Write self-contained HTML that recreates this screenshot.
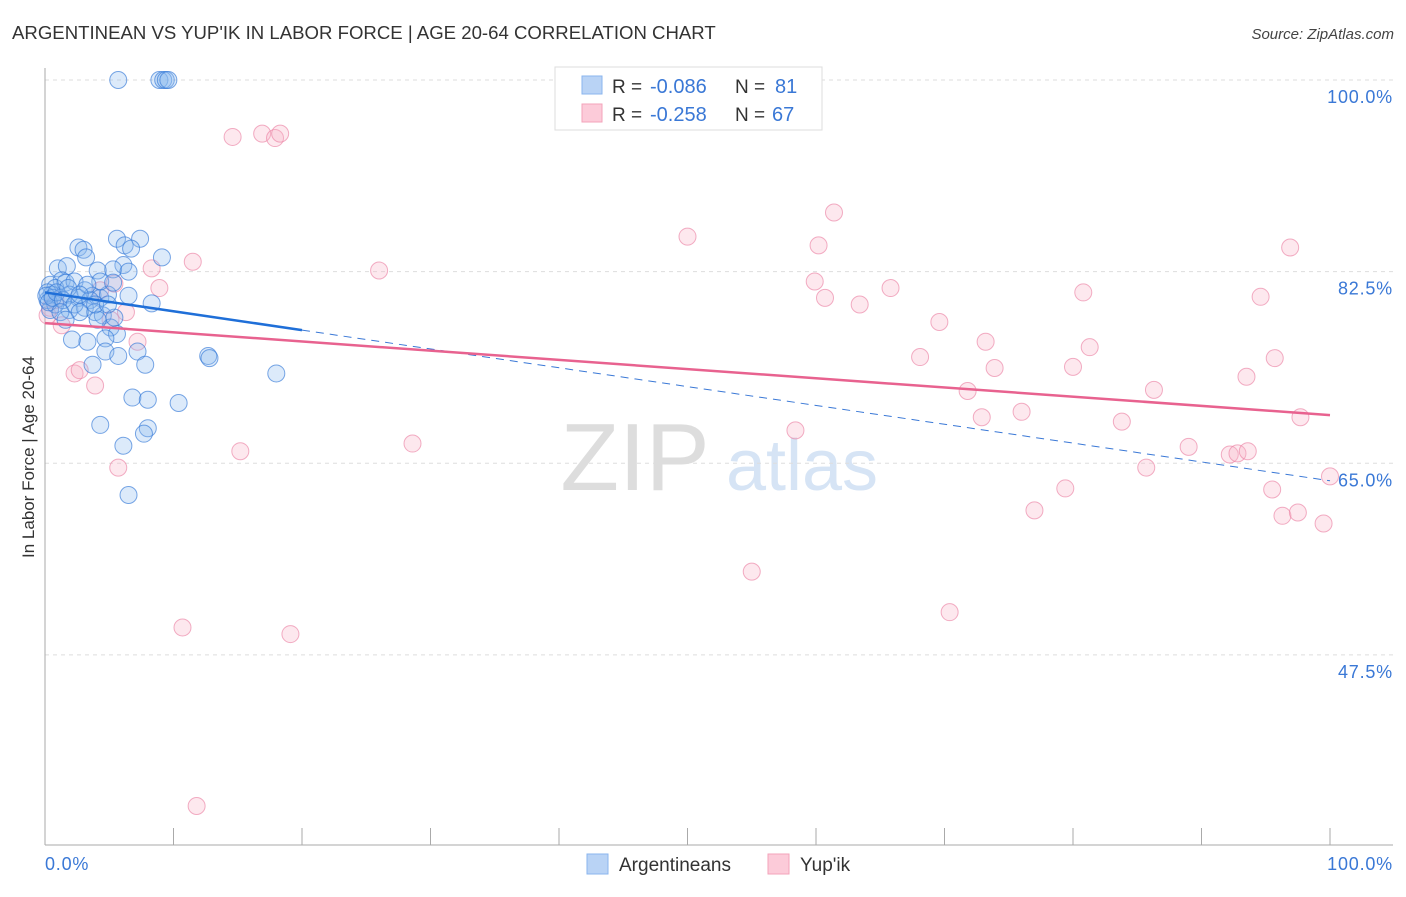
<!DOCTYPE html>
<html><head><meta charset="utf-8"><style>
body{margin:0;background:#fff;font-family:"Liberation Sans",sans-serif}
svg text{font-family:"Liberation Sans",sans-serif}
</style></head><body>
<svg id="chart" width="1406" height="892" xmlns="http://www.w3.org/2000/svg">
<text x="12" y="39" font-size="18.6" fill="#333">ARGENTINEAN VS YUP'IK IN LABOR FORCE | AGE 20-64 CORRELATION CHART</text>
<text x="1394" y="39" font-size="15" fill="#444" text-anchor="end" font-style="italic">Source: ZipAtlas.com</text>
<g>
<text x="635" y="490" font-size="96" fill="#ddd" text-anchor="middle" font-family="Liberation Serif">ZIP</text>
<text x="802" y="490" font-size="72" fill="#d6e4f5" text-anchor="middle">atlas</text>
</g>
<g id="grid"></g>
<line x1="45" y1="68" x2="45" y2="845" stroke="#aaa"/>
<line x1="45" y1="845" x2="1393" y2="845" stroke="#aaa"/>
<text transform="translate(34,457) rotate(-90)" font-size="17" fill="#333" text-anchor="middle">In Labor Force | Age 20-64</text>
<text x="45" y="870" font-size="18" letter-spacing="0.8" fill="#3a78d6">0.0%</text>
<text x="1393" y="870" font-size="18" letter-spacing="0.8" fill="#3a78d6" text-anchor="end">100.0%</text>
<g id="points"></g>
<g id="trends"></g>
<g>
<rect x="555" y="67" width="267" height="63" fill="#fff" stroke="#ddd"/>
<rect x="582" y="76" width="20" height="18" fill="#b9d3f5" stroke="#8ab4ee"/>
<rect x="582" y="104" width="20" height="18" fill="#fccbd9" stroke="#f3a3ba"/>
<text x="612" y="93" font-size="19" fill="#333">R =</text>
<text x="650" y="93" font-size="20" fill="#3a78d6">-0.086</text>
<text x="735" y="93" font-size="19" fill="#333">N =</text>
<text x="775" y="93" font-size="20" fill="#3a78d6">81</text>
<text x="612" y="121" font-size="19" fill="#333">R =</text>
<text x="650" y="121" font-size="20" fill="#3a78d6">-0.258</text>
<text x="735" y="121" font-size="19" fill="#333">N =</text>
<text x="772" y="121" font-size="20" fill="#3a78d6">67</text>
</g>
<g>
<rect x="587" y="854" width="21" height="20" fill="#b9d3f5" stroke="#8ab4ee"/>
<text x="619" y="871" font-size="19" fill="#333">Argentineans</text>
<rect x="768" y="854" width="21" height="20" fill="#fccbd9" stroke="#f3a3ba"/>
<text x="800" y="871" font-size="19" fill="#333">Yup'ik</text>
</g>
</svg>
<script>
const yTicks=[100,82.5,65,47.5];
const yTickLabels=["100.0%","82.5%","65.0%","47.5%"];
const blueX=[5.7,8.9,9.2,9.4,9.6,2.6,3.0,3.2,5.6,7.4,6.2,6.7,9.1,6.1,5.3,6.5,4.1,1.0,1.7,1.3,0.4,0.8,1.6,2.3,3.1,3.7,4.3,4.9,6.5,8.3,0.2,0.5,1.2,1.9,2.6,3.5,1.9,3.1,3.9,4.5,5.1,5.6,2.1,3.3,4.7,4.7,5.7,7.2,7.8,3.7,12.7,12.8,18.0,6.8,8.0,10.4,4.3,8.0,7.7,6.1,6.5,0.4,0.8,0.2,4.3,5.3,4.1,5.4,0.1,0.3,0.6,0.9,1.4,1.8,2.3,2.7,3.3,3.9,1.2,1.6,2.7,4.9];
const blueY=[100,100,100,100,100,84.7,84.5,83.8,85.5,85.5,84.9,84.6,83.8,83.1,82.7,82.5,82.6,82.8,83.0,81.7,81.3,81.0,81.5,81.6,80.8,80.3,80.1,80.4,80.3,79.6,79.9,80.4,80.1,80.4,80.1,79.9,79.0,79.2,78.8,78.5,77.4,76.8,76.3,76.1,76.4,75.2,74.8,75.2,74.0,74.0,74.8,74.6,73.2,71.0,70.8,70.5,68.5,68.2,67.7,66.6,62.1,79.0,79.5,80.6,81.6,81.5,78.1,78.3,80.3,79.7,80.1,80.6,79.9,81.0,79.5,78.8,81.3,79.5,78.8,78.1,80.4,79.5];
const pinkX=[14.6,16.9,17.9,18.3,41.5,61.4,50.0,60.2,96.9,11.5,8.3,26.0,59.9,80.8,94.6,65.8,60.7,63.4,8.9,5.4,6.3,69.6,73.2,81.3,68.1,95.7,73.9,80.0,7.2,2.3,2.7,3.9,71.8,86.3,93.5,97.7,76.0,72.9,83.8,58.4,28.6,15.2,89.0,92.2,92.8,93.6,100,5.7,85.7,79.4,95.5,77.0,96.3,97.5,99.5,55.0,70.4,10.7,19.1,11.8,1.3,0.4,0.8,4.3,5.1,0.2];
const pinkY=[94.8,95.1,94.7,95.1,100,87.9,85.7,84.9,84.7,83.4,82.8,82.6,81.6,80.6,80.2,81.0,80.1,79.5,81.0,81.4,78.8,77.9,76.1,75.6,74.7,74.6,73.7,73.8,76.1,73.2,73.5,72.1,71.6,71.7,72.9,69.2,69.7,69.2,68.8,68.0,66.8,66.1,66.5,65.8,65.9,66.1,63.8,64.6,64.6,62.7,62.6,60.7,60.2,60.5,59.5,55.1,51.4,50.0,49.4,33.7,77.6,79.2,79.9,80.8,78.1,78.5];
const blueTrend=[80.6,63.4];
const pinkTrend=[77.8,69.4];
const NS="http://www.w3.org/2000/svg";
const sx=v=>45+v*12.85;
const sy=v=>80+(100-v)*10.95;
function mk(t,a,p){const e=document.createElementNS(NS,t);for(const k in a)e.setAttribute(k,a[k]);p.appendChild(e);return e;}
const grid=document.getElementById('grid');
yTicks.forEach((t,i)=>{
 const l=mk('line',{x1:45,x2:1393,y1:sy(t),y2:sy(t),stroke:'#ddd','stroke-dasharray':'4,4'},grid);
 
 
 const tx=mk('text',{x:1393,y:sy(t)+23,'font-size':18,'letter-spacing':0.8,fill:'#3a78d6','text-anchor':'end'},grid);
 tx.textContent=yTickLabels[i];
 
 
});
for(let i=1;i<=10;i++){
 const l=mk('line',{x1:45+i*128.5,x2:45+i*128.5,y1:828,y2:845,stroke:'#aaa'},grid);
 
 
}
const pts=document.getElementById('points');
pinkX.forEach((x,i)=>{
 const c=mk('circle',{cx:sx(x),cy:sy(pinkY[i]),r:8.5,fill:'rgba(248,178,200,0.3)',stroke:'rgba(235,130,165,0.65)','stroke-width':1},pts);
 
 
});
blueX.forEach((x,i)=>{
 const c=mk('circle',{cx:sx(x),cy:sy(blueY[i]),r:8.5,fill:'rgba(140,185,240,0.3)',stroke:'rgba(50,120,215,0.65)','stroke-width':1},pts);
 
 
});
const tr=document.getElementById('trends');
const by=x=>blueTrend[0]+(blueTrend[1]-blueTrend[0])*x/100;
let l=mk('line',{x1:sx(20),y1:sy(by(20)),x2:sx(100),y2:sy(by(100)),stroke:'#3a78d6','stroke-width':1,'stroke-dasharray':'8,6'},tr);


l=mk('line',{x1:sx(0),y1:sy(pinkTrend[0]),x2:sx(100),y2:sy(pinkTrend[1]),stroke:'#e8628f','stroke-width':2.5},tr);


l=mk('line',{x1:sx(0),y1:sy(by(0)),x2:sx(20),y2:sy(by(20)),stroke:'#1f6fd8','stroke-width':2.5},tr);


</script>
</body></html>
